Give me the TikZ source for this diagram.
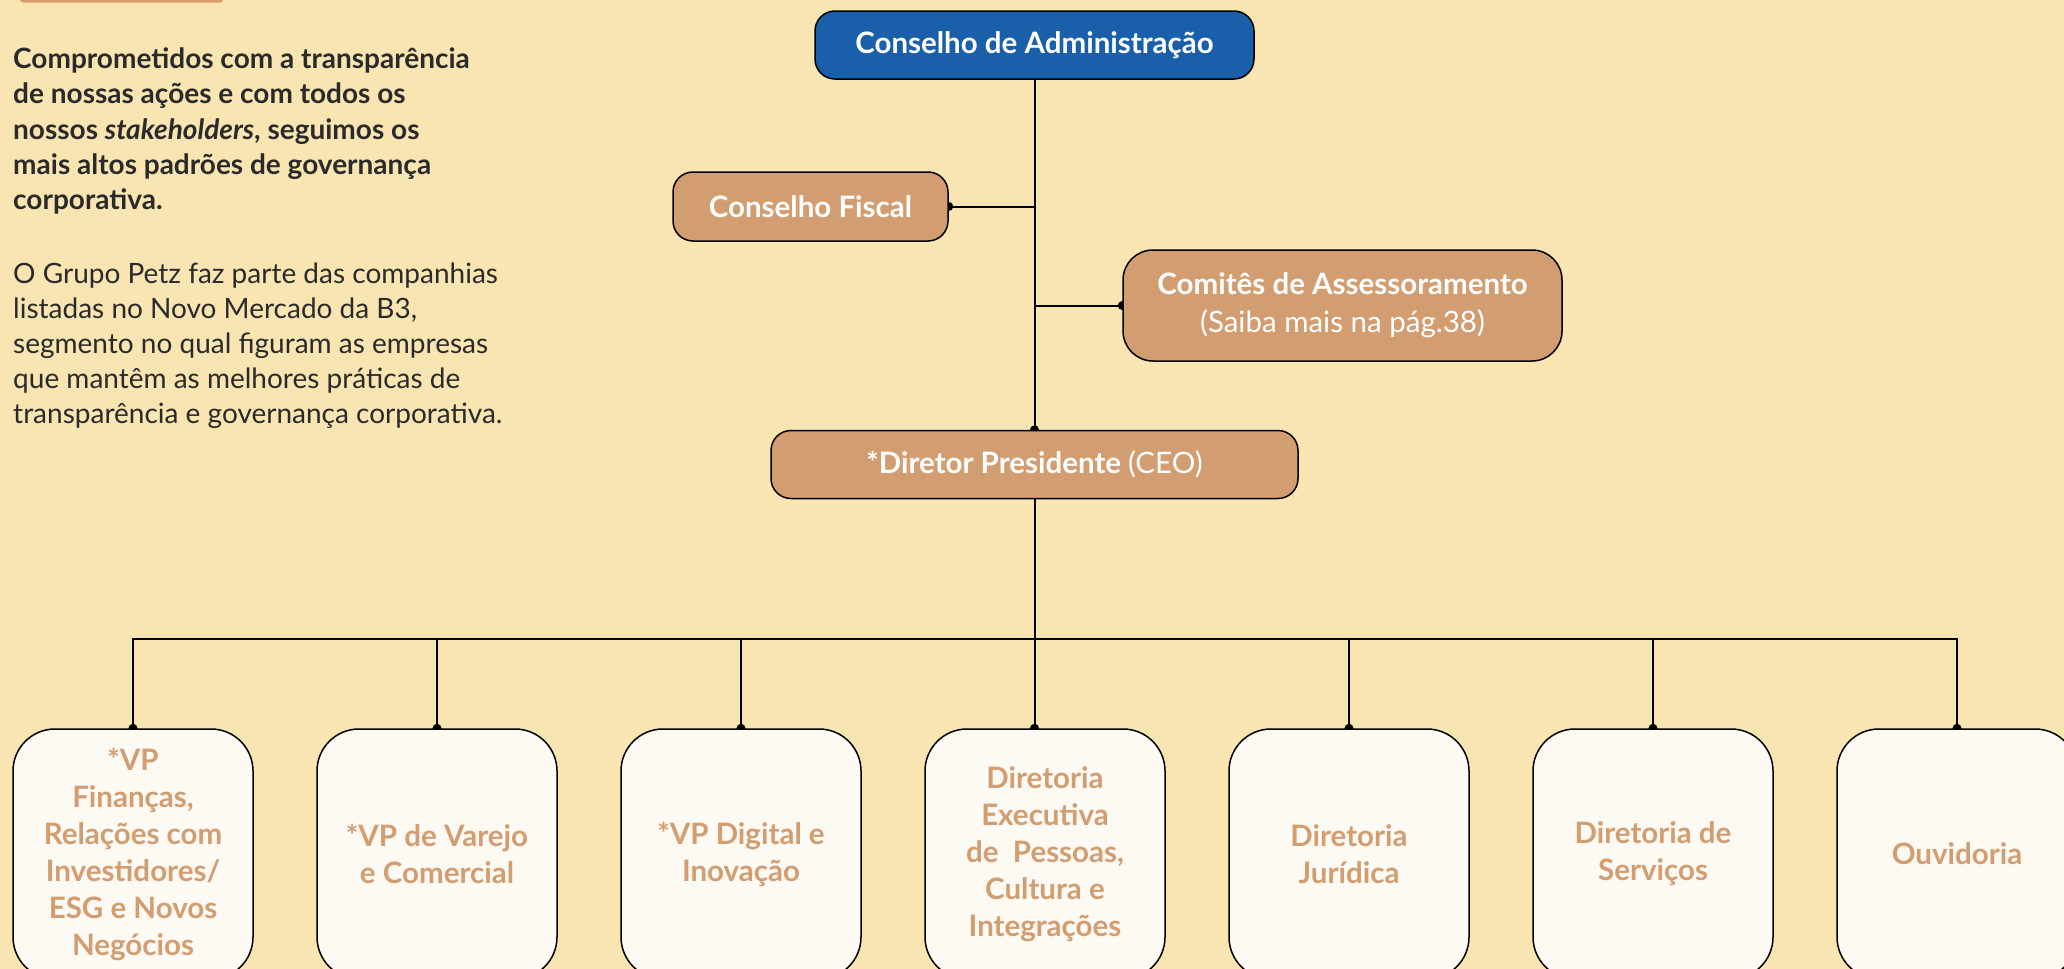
\documentclass[tikz,border=0pt]{standalone}
\usepackage{fontspec}
\setmainfont{Lato}
\usetikzlibrary{decorations.markings}
\pgfdeclarelayer{bg}
\pgfsetlayers{bg,main}

\definecolor{paper}{HTML}{F9E5B2}
\definecolor{clay}{HTML}{D29D70}
\definecolor{ribbon}{HTML}{DB9A6D}
\definecolor{navy}{HTML}{1A5FA9}
\definecolor{card}{HTML}{FDF9F3}
\definecolor{ink}{HTML}{2A2A2A}

\begin{document}
\begin{tikzpicture}[x=1pt,y=-1pt,
  govbox/.style={draw=black,line width=1.5pt,rounded corners=20pt,inner sep=0pt,
    text=white,align=center,font=\bfseries\fontsize{29.5}{38}\selectfont},
  deptbox/.style={draw=black,line width=1.5pt,fill=card,rounded corners=42pt,
    minimum width=240pt,minimum height=250pt,inner sep=0pt,text=clay,align=center,
    font=\bfseries\fontsize{29.5}{37}\selectfont},
  link/.style={line width=2pt,decoration={markings,
    mark=at position 1 with {\fill circle (4.5pt);}},postaction={decorate}}]
\useasboundingbox (0,0) rectangle (2064,969);
\begin{pgfonlayer}{bg}
  \fill[paper] (0,0) rectangle (2064,969);
\end{pgfonlayer}
\fill[ribbon,rounded corners=3pt] (20,-20) rectangle (223,2.5);

% texto lateral
\node[anchor=north west,align=left,inner sep=0pt,text=ink,
  font=\bfseries\fontsize{28}{35.3}\selectfont] (intro) at (13,47.5)
  {Comprometidos com a transparência\\de nossas ações e com todos os\\
   nossos \textit{stakeholders}, seguimos os\\mais altos padrões de governança\\corporativa.};
\node[anchor=north west,align=left,inner sep=0pt,text=ink,
  font=\fontsize{28}{35}\selectfont] (grupo) at (13,262.5)
  {O Grupo Petz faz parte das companhias\\listadas no Novo Mercado da B3,\\
   segmento no qual figuram as empresas\\que mantêm as melhores práticas de\\
   transparência e governança corporativa.};

% conselhos
\node[govbox,fill=navy,minimum width=439pt,minimum height=68pt] (conselho) at (1034.5,45) {Conselho de Administração};
\node[govbox,fill=clay,minimum width=275pt,minimum height=69pt] (fiscal) at (810.5,206.5) {Conselho Fiscal};
\node[govbox,fill=clay,minimum width=439pt,minimum height=111pt,rounded corners=30pt] (comites) at (1342.5,305.5)
  {Comitês de Assessoramento\\\mdseries(Saiba mais na pág.38)};
\node[govbox,fill=clay,minimum width=527pt,minimum height=68pt] (ceo) at (1034.5,464.5) {*Diretor Presidente \mdseries(CEO)};

% diretorias
\node[deptbox] (d1) at (133,854) {*VP\\Finanças,\\Relações com\\Investidores/\\ESG e Novos\\Negócios};
\node[deptbox] (d2) at (437,854) {*VP de Varejo\\e Comercial};
\node[deptbox] (d3) at (741,854) {*VP Digital e\\Inovação};
\node[deptbox] (d4) at (1045,854) {Diretoria\\Executiva\\de\ \ Pessoas,\\Cultura e\\Integrações};
\node[deptbox] (d5) at (1349,854) {Diretoria\\Jurídica};
\node[deptbox] (d6) at (1653,854) {Diretoria de\\Serviços};
\node[deptbox] (d7) at (1957,854) {Ouvidoria};
\coordinate (bus) at (0,639);

\begin{pgfonlayer}{bg}
  \draw[link] (conselho.south) -- (ceo.north);
  \draw[link] (conselho.south |- fiscal.east) -- (fiscal.east);
  \draw[link] (conselho.south |- comites.west) -- (comites.west);
  \draw[link] (ceo.south) -- (ceo.south |- d4.north);
  \draw[link] (ceo.south |- bus) -| (d1.north);
  \draw[link] (ceo.south |- bus) -| (d7.north);
  \foreach \d in {d2,d3,d5,d6}
    \draw[link] (\d.north |- bus) -- (\d.north);
\end{pgfonlayer}
\end{tikzpicture}
\end{document}
